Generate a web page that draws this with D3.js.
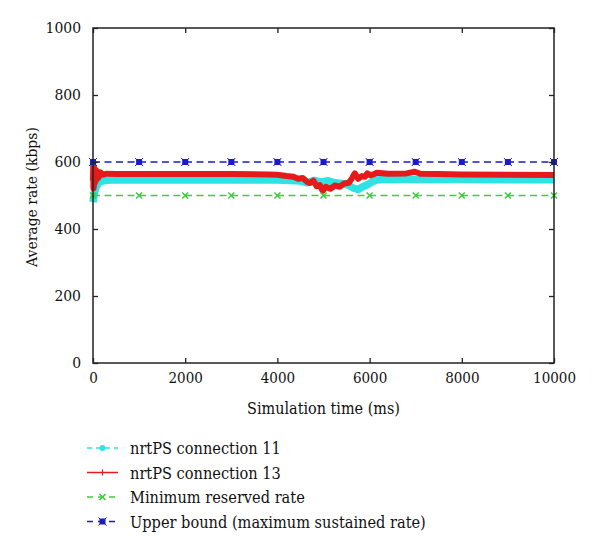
<!DOCTYPE html>
<html>
<head>
<meta charset="utf-8">
<script src="https://cdn.jsdelivr.net/npm/d3@7"></script>
<style>
  body { margin: 0; background: #fff; }
  svg text { fill: #111; }
</style>
</head>
<body>
<svg id="chart" width="600" height="553"></svg>
<script>
// data
const timeTicks = [0, 2000, 4000, 6000, 8000, 10000];
const rateTicks = [0, 200, 400, 600, 800, 1000];
const markerTimes = [0, 1000, 2000, 3000, 4000, 5000, 6000, 7000, 8000, 9000, 10000];
const minReservedRate = 500;
const upperBoundRate = 600;

const conn11Time = [0, 10, 20, 40, 70, 110, 160, 250, 400, 1000, 2000, 3000, 4000, 4300, 4500, 4650, 4800, 4950, 5100, 5250, 5400, 5550, 5650, 5750, 5850, 5950, 6050, 6150, 6300, 7000, 8000, 9000, 10000];
const conn11Rate = [480, 488, 498, 512, 526, 535, 541, 545, 546, 546, 546, 546, 546, 545, 543, 538, 545, 540, 544, 538, 536, 530, 522, 518, 526, 532, 540, 546, 548, 548, 548, 547, 547];

const conn13Time = [0, 5, 10, 15, 20, 30, 40, 55, 70, 90, 120, 160, 220, 300, 500, 1000, 2000, 3000, 3800, 4000, 4200, 4350, 4450, 4550, 4650, 4700, 4780, 4850, 4920, 4980, 5050, 5150, 5250, 5350, 5450, 5550, 5620, 5680, 5750, 5830, 5900, 5950, 6020, 6100, 6160, 6400, 6800, 6980, 7100, 7500, 8000, 9000, 10000];
const conn13Rate = [545, 590, 522, 586, 528, 581, 538, 577, 546, 573, 553, 569, 562, 565, 564, 564, 564, 564, 563, 562, 558, 556, 550, 552, 540, 537, 544, 528, 531, 514, 526, 520, 530, 526, 536, 538, 552, 566, 550, 558, 556, 566, 560, 564, 568, 565, 566, 571, 565, 564, 563, 562, 561];

const legendLabels = ["nrtPS connection 11", "nrtPS connection 13", "Minimum reserved rate", "Upper bound (maximum sustained rate)"];
const colors = { c11: "#2de3e3", c13: "#e51a1a", min: "#3ccf3c", upper: "#1a1ac8" };
const serif = "'DejaVu Serif Condensed', 'DejaVu Serif', serif";

const svg = d3.select("#chart");
const margin = { left: 93, right: 46, top: 28, bottom: 190 };
const width = 600 - margin.left - margin.right;
const height = 553 - margin.top - margin.bottom;

const x = d3.scaleLinear().domain([0, 10000]).range([0, width]);
const y = d3.scaleLinear().domain([0, 1000]).range([height, 0]);

const g = svg.append("g").attr("transform", `translate(${margin.left},${margin.top})`);

const line = d3.line().x(d => x(d[0])).y(d => y(d[1]));

// data series
g.append("path")
  .datum(d3.zip(conn11Time, conn11Rate))
  .attr("d", line)
  .attr("fill", "none").attr("stroke", colors.c11).attr("stroke-width", 7.5).attr("stroke-linejoin", "round");

g.append("path")
  .datum(d3.zip(conn13Time, conn13Rate))
  .attr("d", line)
  .attr("fill", "none").attr("stroke", colors.c13).attr("stroke-width", 6).attr("stroke-linejoin", "round");

// reference lines
function refLine(value, color, marker) {
  g.append("path")
    .datum(markerTimes.map(t => [t, value]))
    .attr("d", line)
    .attr("fill", "none").attr("stroke", color).attr("stroke-width", 1.4).attr("stroke-dasharray", "7,4.5");
  markerTimes.forEach(t => marker(g, x(t), y(value), color));
}

function crossMarker(sel, cx, cy, color) {
  sel.append("path")
    .attr("d", `M${cx - 3},${cy - 3}L${cx + 3},${cy + 3}M${cx - 3},${cy + 3}L${cx + 3},${cy - 3}`)
    .attr("stroke", color).attr("stroke-width", 1.6);
}
function starMarker(sel, cx, cy, color) {
  sel.append("rect").attr("x", cx - 3).attr("y", cy - 3).attr("width", 6).attr("height", 6).attr("fill", color);
  sel.append("path")
    .attr("d", `M${cx - 4},${cy - 4}L${cx + 4},${cy + 4}M${cx - 4},${cy + 4}L${cx + 4},${cy - 4}`)
    .attr("stroke", color).attr("stroke-width", 1);
}
function dotMarker(sel, cx, cy, color) {
  sel.append("circle").attr("cx", cx).attr("cy", cy).attr("r", 3).attr("fill", color);
}
function plusMarker(sel, cx, cy, color) {
  sel.append("path")
    .attr("d", `M${cx - 3},${cy}L${cx + 3},${cy}M${cx},${cy - 3}L${cx},${cy + 3}`)
    .attr("stroke", color).attr("stroke-width", 1.2);
}

refLine(minReservedRate, colors.min, crossMarker);
refLine(upperBoundRate, colors.upper, starMarker);

// axes with inward ticks, mirrored on top/right
const tickLen = 5;
const fmt = d3.format("d");
g.append("g").attr("transform", `translate(0,${height})`)
  .call(d3.axisBottom(x).tickValues(timeTicks).tickFormat(fmt).tickSizeInner(-tickLen).tickSizeOuter(0).tickPadding(9))
  .call(a => a.selectAll("text").attr("font-size", 15));
g.append("g")
  .call(d3.axisLeft(y).tickValues(rateTicks).tickFormat(fmt).tickSizeInner(-tickLen).tickSizeOuter(0).tickPadding(12))
  .call(a => a.selectAll("text").attr("font-size", 15.5));
g.append("g")
  .call(d3.axisTop(x).tickValues(timeTicks).tickSizeInner(-tickLen).tickSizeOuter(0).tickFormat(""));
g.append("g").attr("transform", `translate(${width},0)`)
  .call(d3.axisRight(y).tickValues(rateTicks).tickSizeInner(-tickLen).tickSizeOuter(0).tickFormat(""));
g.selectAll(".domain").attr("stroke", "none");
g.selectAll(".tick line").attr("stroke", "#222").attr("stroke-width", 1.3);

g.append("rect").attr("width", width).attr("height", height)
  .attr("fill", "none").attr("stroke", "#222").attr("stroke-width", 1.5);

// axis titles
g.append("text").attr("x", width / 2).attr("y", height + 51)
  .attr("text-anchor", "middle").attr("font-size", 16).text("Simulation time (ms)");
svg.append("text").attr("transform", `translate(37,197) rotate(-90)`)
  .attr("text-anchor", "middle").attr("font-size", 15.5).text("Average rate (kbps)");

// legend
const legendStyles = [
  { color: colors.c11, dash: "5,4", marker: dotMarker },
  { color: colors.c13, dash: null, marker: plusMarker },
  { color: colors.min, dash: "6,5", marker: crossMarker },
  { color: colors.upper, dash: "6,5", marker: starMarker }
];
const legend = svg.append("g").attr("transform", "translate(87,448)");
legendLabels.forEach((label, i) => {
  const row = legend.append("g").attr("transform", `translate(0,${i * 24.5})`);
  const st = legendStyles[i];
  row.append("line").attr("x1", 0).attr("x2", 31).attr("y1", 0).attr("y2", 0)
    .attr("stroke", st.color).attr("stroke-width", 1.5)
    .attr("stroke-dasharray", st.dash);
  st.marker(row, 15.5, 0, st.color);
  row.append("text").attr("x", 43).attr("y", 6).attr("font-size", 16.2).text(label);
});
svg.selectAll("g").attr("font-family", null);
svg.selectAll("text").style("font-family", serif).style("font-stretch", "condensed");
</script>
</body>
</html>
